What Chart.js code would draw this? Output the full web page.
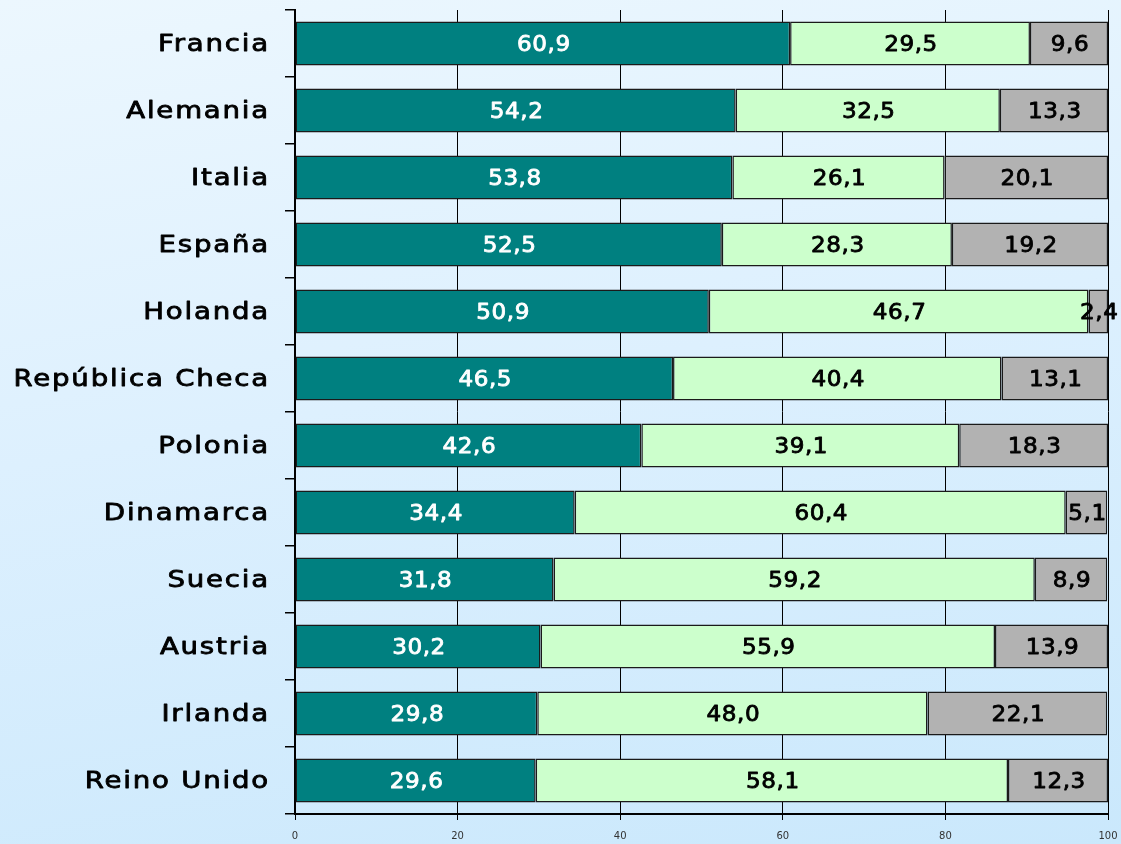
<!DOCTYPE html>
<html>
<head>
<meta charset="utf-8">
<script src="https://cdn.jsdelivr.net/npm/chart.js@4/dist/chart.umd.min.js"></script>
<style>
  html, body { margin: 0; padding: 0; }
  body {
    width: 1121px; height: 844px; overflow: hidden;
    background: linear-gradient(170deg, #ECF7FE 0%, #DDF0FE 45%, #CAE8FC 100%);
  }
  #wrap { width: 1121px; height: 844px; }
</style>
</head>
<body>
<div id="wrap"><canvas id="chart" width="1121" height="844"></canvas></div>
<script>
// Countries, top to bottom
const countries = [
  'Francia', 'Alemania', 'Italia', 'España', 'Holanda', 'República Checa',
  'Polonia', 'Dinamarca', 'Suecia', 'Austria', 'Irlanda', 'Reino Unido'
];

// Shares of each group (%)
const serie1 = [60.9, 54.2, 53.8, 52.5, 50.9, 46.5, 42.6, 34.4, 31.8, 30.2, 29.8, 29.6];
const serie2 = [29.5, 32.5, 26.1, 28.3, 46.7, 40.4, 39.1, 60.4, 59.2, 55.9, 48.0, 58.1];
const serie3 = [9.6, 13.3, 20.1, 19.2, 2.4, 13.1, 18.3, 5.1, 8.9, 13.9, 22.1, 12.3];

const xTicks = [0, 20, 40, 60, 80, 100];

const textFont = "'DejaVu Sans', sans-serif";

// Draws text in a wide, medium-weight lettering (stretched and lightly stroked)
function wideText(ctx, text, x, y, opts) {
  ctx.save();
  ctx.font = opts.size + 'px ' + textFont;
  ctx.letterSpacing = opts.spacing + 'px';
  ctx.fillStyle = opts.color;
  ctx.strokeStyle = opts.color;
  ctx.lineWidth = opts.stroke;
  ctx.lineJoin = 'round';
  ctx.textAlign = opts.align;
  ctx.textBaseline = 'middle';
  ctx.translate(x, y);
  ctx.scale(opts.stretch, 1);
  ctx.fillText(text, 0, 0);
  ctx.strokeText(text, 0, 0);
  ctx.restore();
}

// Country names, right-aligned beside the category axis
const countryLabels = {
  id: 'countryLabels',
  afterDraw(chart) {
    const y = chart.scales.y;
    y.ticks.forEach((t, i) => {
      wideText(chart.ctx, chart.data.labels[i], 270, y.getPixelForTick(i) + 2,
        { size: 23, spacing: 1.5, stretch: 1.2, stroke: 0.8, color: '#000000', align: 'right' });
    });
  }
};

// Writes each segment's value (decimal comma) at the middle of the segment
const valueLabels = {
  id: 'valueLabels',
  afterDatasetsDraw(chart) {
    chart.data.datasets.forEach((ds, i) => {
      const meta = chart.getDatasetMeta(i);
      meta.data.forEach((bar, j) => {
        const cx = (bar.x + bar.base) / 2;
        wideText(chart.ctx, ds.data[j].toFixed(1).replace('.', ','), cx + 1, bar.y + 2,
          { size: 21, spacing: 0.5, stretch: 1.1, stroke: 0.8,
            color: i === 0 ? '#FFFFFF' : '#000000', align: 'center' });
      });
    });
  }
};

const barStyle = { borderColor: '#1a1a1a', borderWidth: 1.5, borderSkipped: false };

new Chart(document.getElementById('chart'), {
  type: 'bar',
  data: {
    labels: countries,
    datasets: [
      Object.assign({ data: serie1, backgroundColor: '#008080' }, barStyle),
      Object.assign({ data: serie2, backgroundColor: '#CCFFCC' }, barStyle),
      Object.assign({ data: serie3, backgroundColor: '#B2B2B2' }, barStyle)
    ]
  },
  options: {
    indexAxis: 'y',
    responsive: false,
    animation: false,
    layout: { padding: { top: 10, right: 13, left: 0, bottom: 0 } },
    plugins: { legend: { display: false }, tooltip: { enabled: false } },
    datasets: { bar: { categoryPercentage: 1, barPercentage: 0.66 } },
    scales: {
      x: {
        stacked: true,
        min: 0, max: 100,
        afterBuildTicks(scale) { scale.ticks = xTicks.map(v => ({ value: v })); },
        afterFit(scale) {
          scale.height = 30;
          scale.paddingLeft = 0;
          scale.paddingRight = 0;
        },
        grid: { color: '#000000', lineWidth: 1, tickLength: 6, drawTicks: true },
        border: { color: '#000000', width: 2 },
        ticks: {
          color: '#333333',
          padding: 10,
          font: { family: textFont, size: 10 }
        }
      },
      y: {
        stacked: true,
        afterFit(scale) {
          scale.width = 295;
          scale.paddingTop = 0;
          scale.paddingBottom = 0;
        },
        grid: { drawOnChartArea: false, color: '#000000', lineWidth: 1.5, tickLength: 10 },
        border: { color: '#000000', width: 2 },
        ticks: { display: false }
      }
    }
  },
  plugins: [valueLabels, countryLabels]
});
</script>
</body>
</html>
